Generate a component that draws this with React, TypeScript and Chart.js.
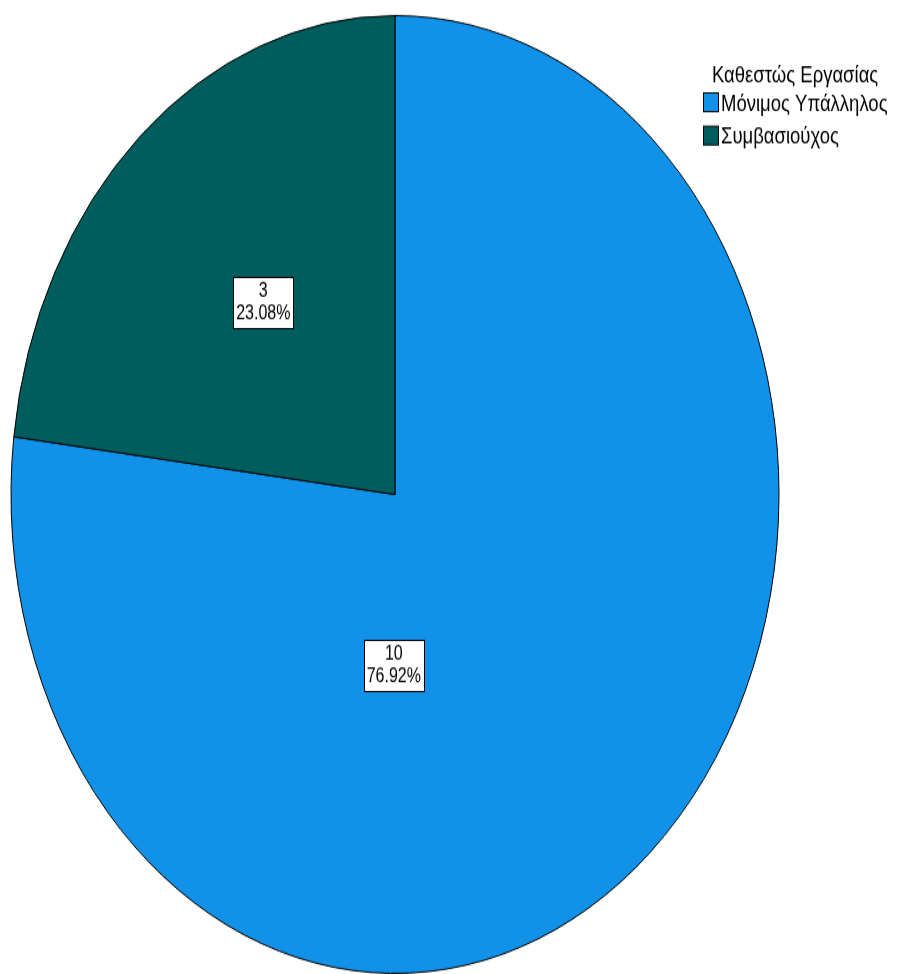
import React, { useEffect, useRef } from "react";
import { Chart, registerables } from "chart.js";

Chart.register(...registerables);

const categories = ["Μόνιμος Υπάλληλος", "Συμβασιούχος"];
const counts = [10, 3];
const colors = ["#1192e8", "#005d5d"];
const legendTitle = "Καθεστώς Εργασίας";
// label anchor offsets, as fractions of the pie radius from its centre
const labelOffsets = [
  [-0.003, 0.356],
  [-0.343, -0.402],
];

const W = 901;
const H = 781; // drawn height; the canvas is stretched to 974 px like the reference
const FONT = '"Liberation Sans", Arial, sans-serif';

const labelPlugin = {
  id: "boxLabels",
  afterDatasetsDraw(chart: any) {
    const ctx = chart.ctx;
    const meta = chart.getDatasetMeta(0);
    const total = counts.reduce((a, b) => a + b, 0);
    ctx.save();
    ctx.font = `16px ${FONT}`;
    ctx.textAlign = "center";
    ctx.textBaseline = "middle";
    meta.data.forEach((arc: any, i: number) => {
      const r = arc.outerRadius;
      const cx = arc.x + labelOffsets[i][0] * r;
      const cy = arc.y + labelOffsets[i][1] * r;
      const l1 = String(counts[i]);
      const l2 = ((counts[i] / total) * 100).toFixed(2) + "%";
      const tw = Math.max(ctx.measureText(l1).width, ctx.measureText(l2).width);
      const bw = Math.round(tw + 6);
      const bh = 41;
      const bx = Math.round(cx - bw / 2) + 0.5;
      const by = Math.round(cy - bh / 2) + 0.5;
      ctx.fillStyle = "#ffffff";
      ctx.fillRect(bx, by, bw, bh);
      ctx.strokeStyle = "#000000";
      ctx.lineWidth = 1;
      ctx.strokeRect(bx, by, bw, bh);
      ctx.fillStyle = "#000000";
      ctx.fillText(l1, cx, cy - 9);
      ctx.fillText(l2, cx, cy + 9);
    });
    ctx.restore();
  },
  afterDraw(chart: any) {
    const ctx = chart.ctx;
    ctx.save();
    ctx.font = `18.5px ${FONT}`;
    ctx.textBaseline = "middle";
    ctx.textAlign = "left";
    ctx.fillStyle = "#000000";
    ctx.fillText(legendTitle, 712, 61);
    categories.forEach((c, i) => {
      const y = 74 + i * 26.7;
      ctx.fillStyle = colors[i];
      ctx.fillRect(703.5, y + 0.5, 15, 15);
      ctx.strokeStyle = "#000000";
      ctx.lineWidth = 1;
      ctx.strokeRect(703.5, y + 0.5, 15, 15);
      ctx.fillStyle = "#000000";
      ctx.fillText(c, 721, y + 9.5);
    });
    ctx.restore();
  },
};

export default function App() {
  const ref = useRef<HTMLCanvasElement>(null);
  useEffect(() => {
    const canvas = ref.current!;
    const chart = new Chart(canvas, {
      type: "pie",
      data: {
        labels: categories,
        datasets: [
          {
            data: counts,
            backgroundColor: colors,
            borderColor: "#000000",
            borderWidth: 1,
            hoverBorderWidth: 1,
            hoverOffset: 0,
          },
        ],
      },
      options: {
        responsive: false,
        animation: false,
        devicePixelRatio: 1,
        events: [],
        layout: { padding: { left: 9, right: 120, top: 12, bottom: -2 } },
        plugins: {
          legend: { display: false },
          tooltip: { enabled: false },
        },
      },
      plugins: [labelPlugin],
    });
    canvas.style.width = W + "px";
    canvas.style.height = "974px";
    return () => chart.destroy();
  }, []);
  return (
    <div style={{ position: "fixed", left: 0, top: 0, width: W, height: 974, background: "#fff" }}>
      <canvas ref={ref} width={W} height={H} style={{ display: "block", width: W, height: 974 }} />
    </div>
  );
}
